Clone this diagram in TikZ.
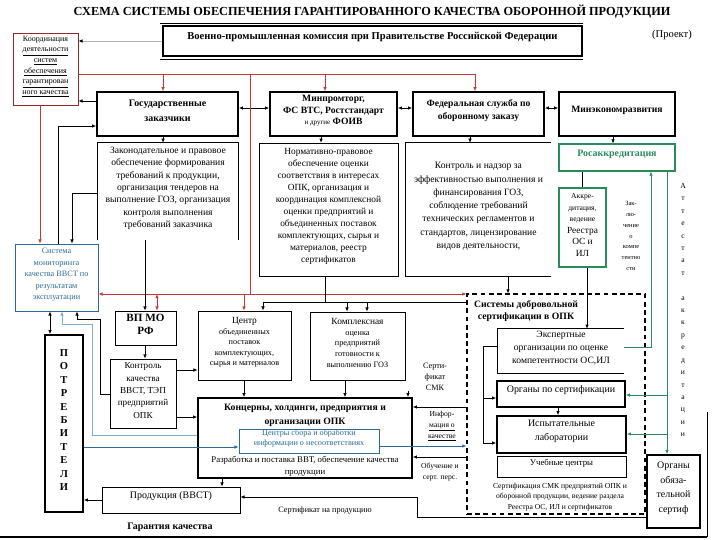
\documentclass[tikz,border=0pt]{standalone}
\usepackage{fontspec}
\setmainfont{Liberation Serif}
\usetikzlibrary{arrows.meta,fit}
\definecolor{redl}{RGB}{200,55,55}
\definecolor{redbox}{RGB}{150,40,40}
\definecolor{grn}{RGB}{40,140,95}
\definecolor{blu}{RGB}{45,105,150}
\definecolor{lblu}{RGB}{130,175,205}
\newcommand\fs[2]{\fontsize{#1}{#2}\selectfont}
\begin{document}
\begin{tikzpicture}[x=0.03cm,y=-0.03cm,
  >={Latex[length=3.5pt,width=3pt]},
  bx/.style={draw, inner sep=0pt, align=center},
  tbx/.style={bx, line width=1.4pt},
  gbx/.style={bx, draw=grn, line width=0.9pt},
  nobx/.style={inner sep=0pt, align=center},
  txt/.style={inner sep=0pt, align=center},
  conn/.style={line width=0.6pt},
]
\useasboundingbox (0,0) rectangle (720,540);

% title
\node[txt, font=\fs{10.5}{12}\bfseries] (title) at (372,12) {СХЕМА СИСТЕМЫ ОБЕСПЕЧЕНИЯ ГАРАНТИРОВАННОГО КАЧЕСТВА ОБОРОННОЙ ПРОДУКЦИИ};

% VPK
\draw[line width=0.8pt] (160,23) -- (583,23);
\node[tbx, fit={(163,26)(582,56)}, font=\fs{9}{11}\bfseries] (vpk) {Военно-промышленная комиссия при Правительстве Российской Федерации};
\draw[line width=0.8pt] (160,59) -- (583,59);
\node[txt, font=\fs{9}{11}] (proj) at (672,35) {(Проект)};

% coordination box
\node[bx, draw=redbox, line width=0.8pt, fit={(13,33)(78,105)}, font=\fs{6.8}{9}] (coord) {Координация\\\underline{деятельности}\\\underline{систем}\\\underline{обеспечения}\\\underline{гарантирован}\\\underline{ного качества}};

% top row
\node[tbx, fit={(97,92)(238,136)}, font=\fs{8.5}{13}\bfseries] (gz) {Государственные\\заказчики};
\node[tbx, fit={(270,92)(397,136)}, font=\fs{8.2}{10}\bfseries] (mpt) {Минпромторг,\\ФС ВТС, Ростстандарт\\{\mdseries\fs{6}{10}и другие} ФОИВ\\[-3pt]};
\node[tbx, fit={(413,92)(544,136)}, font=\fs{8.2}{11.5}\bfseries] (fsoz) {Федеральная служба по\\оборонному заказу\\[2pt]};
\node[tbx, fit={(559,92)(675,136)}, font=\fs{8.2}{12}\bfseries] (mer) {Минэкономразвития\\[18pt]};

% second row
\node[nobx, fit={(98,143)(238,240)}, font=\fs{8.2}{10.6}] (zak) {Законодательное и правовое\\обеспечение формирования\\требований к продукции,\\организация тендеров на\\выполнение ГОЗ, организация\\контроля выполнения\\требований заказчика\\[4pt]};
\draw[conn] (zak.south west) |- (zak.north east) -- (zak.south east);
\node[bx, fit={(259,143)(398,276)}, font=\fs{8}{10.3}] (norm) {Нормативно-правовое\\обеспечение оценки\\соответствия в интересах\\ОПК, организация и\\координация комплексной\\оценки предприятий и\\объединенных поставок\\комплектующих, сырья и\\материалов, реестр\\сертификатов};
\node[nobx, fit={(406,143)(551,276)}, font=\fs{8.2}{11.3}] (kontr) {Контроль и надзор за\\эффективностью выполнения и\\финансирования ГОЗ,\\соблюдение требований\\технических регламентов и\\стандартов, лицензирование\\видов деятельности,\\[8pt]};
\draw[conn] (kontr.north east) -- (kontr.north west) -- (kontr.south west) -- (kontr.south east);
\node[gbx, fit={(559,144)(675,171)}, text=grn, font=\fs{8.5}{10}\bfseries] (rosak) {Росаккредитация};
\node[gbx, fit={(559,188)(606,267)}, font=\fs{6.5}{9.9}] (akk) {Аккре-\\дитация,\\ведение\\{\fs{8}{9.9}Реестра}\\{\fs{8}{9.9}ОС и}\\{\fs{8}{9.9}ИЛ}};
\node[txt, font=\fs{5.5}{9.2}] (zakl) at (631,236) {Зак-\\лю-\\чение\\о\\компе\\тентно\\сти};
\node[txt, font=\fs{6.5}{10.6}] (att) at (683,310) {А\\т\\т\\е\\с\\т\\а\\т\\\mbox{}\\а\\к\\к\\р\\е\\д\\и\\т\\а\\ц\\и\\и};

% left column
\node[bx, draw=blu, line width=0.8pt, text=blu, fit={(15,244)(98,311)}, font=\fs{7}{9.8}] (mon) {Система\\мониторинга\\качества ВВСТ по\\результатам\\эксплуатации};
\node[tbx, fit={(45,335)(83,512)}, font=\fs{9}{11.5}\bfseries] (potr) {П\\О\\Т\\Р\\Е\\Б\\И\\Т\\Е\\Л\\И};
\node[bx, line width=0.8pt, fit={(115,311)(176,345)}, font=\fs{9.5}{11.5}\bfseries] (vpmo) {ВП МО\\РФ};
\node[bx, line width=0.8pt, fit={(110,359)(176,428)}, font=\fs{7.8}{10.6}] (kk) {Контроль\\качества\\ВВСТ, ТЭП\\предприятий\\ОПК};
\node[bx, line width=0.8pt, fit={(198,311)(291,380)}, font=\fs{7}{9}] (centr) {{\fs{8}{9}Центр}\\объединенных\\поставок\\комплектующих,\\сырья и материалов};
\node[bx, line width=0.8pt, fit={(310,312)(405,380)}, font=\fs{7}{9}] (kompl) {{\fs{8}{9}Комплексная}\\оценка\\предприятий\\готовности к\\выполнению ГОЗ};

% concerns
\node[tbx, fit={(198,398)(412,478)}] (konc) {};
\node[txt, font=\fs{8.3}{12}\bfseries] (konct) at (305,415) {Концерны, холдинги, предприятия и\\организации ОПК};
\node[bx, draw=blu, line width=0.8pt, fill=white, text=blu, fit={(239,429)(379,453)}, font=\fs{7}{8.5}] (info) {Центры сбора и обработки\\информации о несоответствиях};
\node[txt, font=\fs{7.5}{10}] (koncd) at (305,466) {Разработка и поставка ВВТ, обеспечение качества\\продукции};
\node[bx, line width=0.8pt, fit={(102,487)(240,513)}, font=\fs{8.5}{10}] (prod) {Продукция (ВВСТ)};
\node[txt, font=\fs{8.5}{10}\bfseries] (gar) at (170,527) {Гарантия качества};

% voluntary certification
\node[draw, inner sep=0pt, line width=1pt, dash pattern=on 4pt off 3pt, fit={(467,294)(645,514)}] (dsys) {};
\node[txt, font=\fs{8.3}{11}\bfseries] (dsyst) at (526,311) {Системы добровольной\\сертификации в ОПК};
\node[nobx, fit={(498,329)(624,373)}, font=\fs{8.2}{11.3}] (expert) {Экспертные\\организации по оценке\\компетентности ОС,ИЛ};
\draw[conn] (expert.north east) -- (expert.north west) -- (expert.south west) -- (expert.south east);
\node[tbx, fit={(497,381)(625,407)}, font=\fs{8.5}{10}] (osert) {Органы по сертификации};
\node[tbx, fit={(497,416)(626,453)}, font=\fs{8.5}{11.5}] (isp) {Испытательные\\лаборатории};
\node[bx, line width=0.8pt, fit={(497,456)(626,477)}, font=\fs{7.5}{10}] (ucheb) {Учебные центры};
\node[txt, font=\fs{6.5}{9}] (sertt) at (560,497) {Сертификация СМК предприятий ОПК и\\оборонной продукции, ведение раздела\\Реестра ОС, ИЛ и сертификатов};
\node[tbx, fit={(647,455)(700,528)}, font=\fs{8.5}{12.5}] (oob) {Органы\\обяза-\\тельной\\сертиф};

% labels
\node[txt, font=\fs{7}{9.5}] (lsmk) at (435,377) {Серти-\\фикат\\СМК};
\node[txt, font=\fs{6.5}{9.2}] (linf) at (442,426) {Инфор-\\\underline{мация о}\\\underline{качестве}};
\node[txt, font=\fs{6.5}{9.5}] (lobu) at (440,472) {Обучение и\\серт. перс.};
\node[txt, font=\fs{7}{9}] (lsp) at (325,511) {Сертификат на продукцию};

% ---------------- connectors
\draw[conn, gray!60, -{Latex[length=3.5pt,width=3pt,color=black]}] (vpk.west) -- (coord.east |- vpk.west);
\draw[conn, ->] (gz.west |- 0,101) -- (coord.east |- 0,101);
\draw[conn, ->] (mon.north -| 58,0) |- (gz.west |- 0,126);
\draw[conn, <->] (gz.east |- 0,108) -- (mpt.west |- 0,108);
\draw[conn, <->] (mpt.east |- 0,108) -- (fsoz.west |- 0,108);
\draw[conn, <->] (fsoz.east |- 0,108) -- (mer.west |- 0,108);

% red
\coordinate (ra) at (163,74);
\coordinate (rb) at (325,74);
\coordinate (rc) at (250,74);
\coordinate (rd) at (250,294);
\coordinate (re) at (244,294);
\coordinate (rf) at (157,294);
\draw[conn, redl, ->] (coord.east |- ra) -| (fsoz.north -| 475,0);
\draw[conn, redl, ->] (ra) -- (gz.north -| ra);
\draw[conn, redl, ->] (rb) -- (mpt.north -| rb);
\draw[conn, redl] (rc) -- (rd);
\draw[conn, redl, <->] (mon.east |- rd) -- (dsys.west |- rd);
\draw[conn, redl, ->] (re) -- (centr.north -| re);
\draw[conn, redl, <->] (rf) -- (vpmo.north -| rf);
\draw[conn, redl, ->] (coord.south -| 40,0) -- (mon.north -| 40,0);

% downward
\draw[conn, ->] (gz.south -| 163,0) -- (zak.north -| 163,0);
\draw[conn, ->] (mpt.south -| 321,0) -- (norm.north -| 321,0);
\draw[conn, ->] (fsoz.south -| 470,0) -- (kontr.north -| 470,0);
\draw[conn, ->] (mer.south -| 613,0) -- (rosak.north -| 613,0);
\draw[conn, ->] (zak.west |- 0,193) -| (mon.north -| 72,0);
\draw[conn, ->] (zak.south -| 145,0) -- (vpmo.north -| 145,0);
\draw[conn, ->] (kontr.south -| 508,0) -- (dsys.north -| 508,0);

\coordinate (na) at (325,302);
\coordinate (nb) at (263,302);
\coordinate (nc) at (347,302);
\coordinate (nd) at (367,302);
\draw[conn] (norm.south -| na) -- (na);
\draw[conn] (nb) -- (dsys.west |- nb);
\draw[conn, ->] (nb) -- (centr.north -| nb);
\draw[conn, ->] (nc) -- (kompl.north -| nc);
\draw[conn, ->] (nd) -- (kompl.north -| nd);

% green / accreditation
\draw[conn] (rosak.south -| 582,0) -- (akk.north -| 582,0);
\draw[conn, ->] (akk.south -| 587,0) -- (expert.north -| 587,0);
\draw[conn, grn, ->] (expert.east |- 0,347) -| (rosak.south -| 651,0);
\draw[conn, grn, ->] (rosak.south -| 667,0) -- (oob.north -| 667,0);
\coordinate (ga) at (667,395);
\coordinate (gb) at (667,434);
\draw[conn, grn, ->] (ga) -- (osert.east |- ga);
\draw[conn, grn, ->] (gb) -- (isp.east |- gb);

% inside voluntary system
\coordinate (ea) at (483,346);
\coordinate (eb) at (483,398);
\coordinate (ec) at (483,443);
\draw[conn] (expert.west |- ea) -- (ea) -- (ec);
\draw[conn, ->] (eb) -- (osert.west |- eb);
\draw[conn, ->] (ec) -- (isp.west |- ec);
\draw[conn, ->] (osert.south -| 558,0) -- (isp.north -| 558,0);

% concerns links
\draw[conn, ->] (vpmo.south -| 145,0) -- (kk.north -| 145,0);
\draw[conn, ->] (kk.east |- 0,370) -- (centr.west |- 0,370);
\draw[conn, ->] (kk.east |- 0,417) -- (konc.west |- 0,417);
\draw[conn, ->] (centr.south -| 244,0) -- (konc.north -| 244,0);
\draw[conn, ->] (kompl.south -| 345,0) -- (konc.north -| 345,0);
\coordinate (ka) at (408,391);
\draw[conn, ->] (ka) -- (konc.north -| ka);
\draw[conn, ->] (dsys.west |- 0,407) -- (konc.east |- 0,407);
\draw[conn, ->] (dsys.west |- 0,457) -- (konc.east |- 0,457);
\draw[conn, blu, ->] (info.east |- 0,446) -- (dsys.west |- 0,446);
\draw[conn, ->] (konc.south -| 222,0) -- (prod.north -| 222,0);

% consumers
\draw[conn, <->] (mon.south -| 50,0) -- (potr.north -| 50,0);
\draw[conn, blu, ->] (potr.east |- 0,447) -- (info.west |- 0,447);
\draw[conn, lblu, ->] (konc.west |- 0,435) -- (92,435) -- (92,324) -- (62,324) -- (mon.south -| 62,0);
\draw[conn, ->] (kk.west |- 0,394) -- (100,394) -- (100,319) -- (77,319) -- (mon.south -| 77,0);
\draw[conn, ->] (prod.west) -- (potr.east |- prod.west);
\coordinate (pa) at (417,517);
\coordinate (pb) at (417,497);
\draw[conn, ->] (oob.west |- pa) -- (pa) -- (pb) -- (prod.east |- pb);

% frame
\draw[line width=1.2pt] (0,537) -- (707,537);
\draw[line width=0.8pt] (707,412) -- (707,537);
\end{tikzpicture}
\end{document}
